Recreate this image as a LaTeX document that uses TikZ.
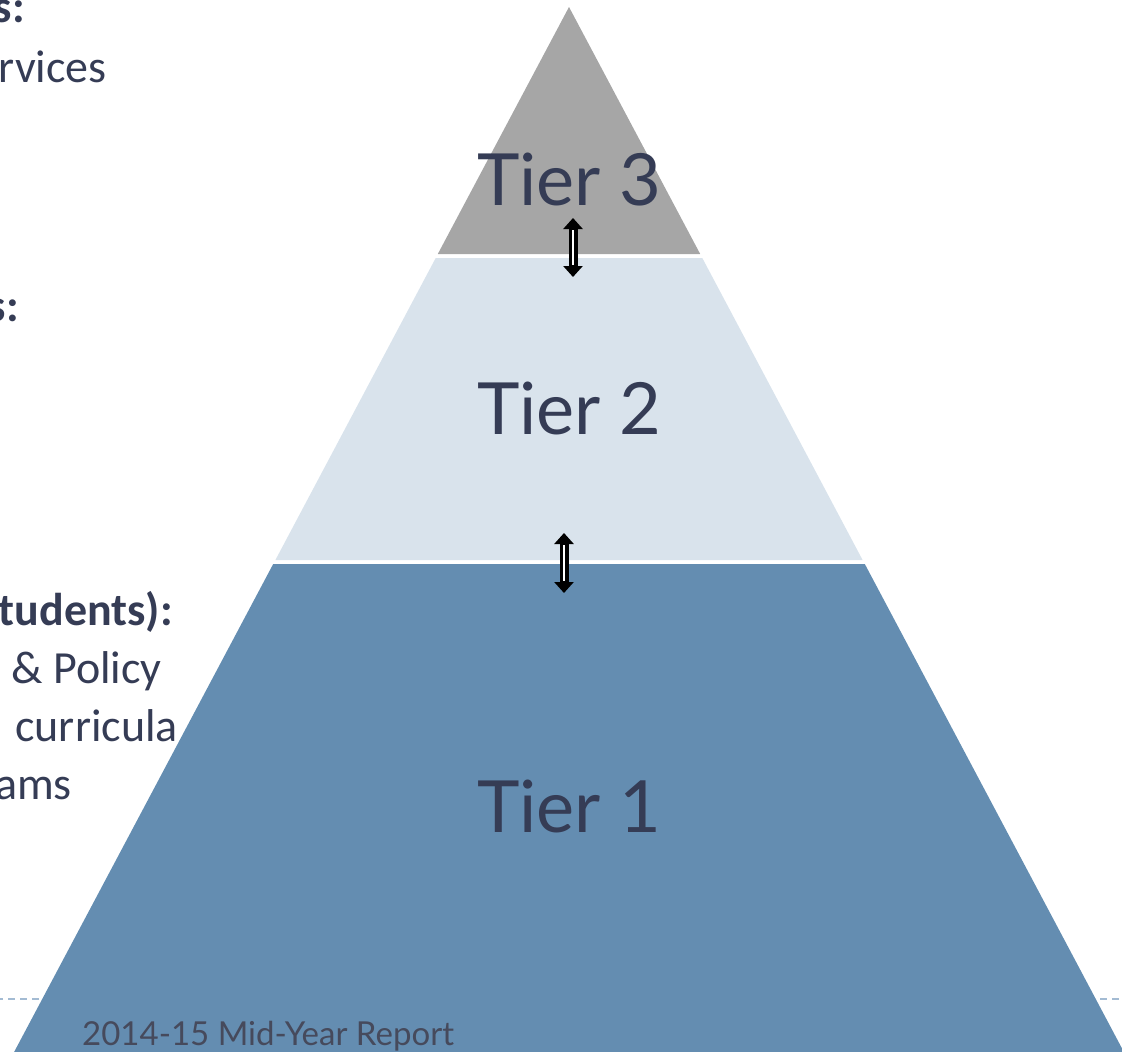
\documentclass[tikz,border=0pt]{standalone}
\usepackage{fontspec}
\setmainfont{Carlito}
\newfontfamily\tierfont{Lato}
\usetikzlibrary{arrows.meta}
\definecolor{navy}{HTML}{353C55}
\definecolor{tthree}{HTML}{A6A6A6}
\definecolor{ttwo}{HTML}{D9E3EC}
\definecolor{tone}{HTML}{648DB1}
\definecolor{dashblue}{HTML}{A3BBD3}
\definecolor{footgray}{HTML}{464A5C}
\begin{document}
\begin{tikzpicture}[x=1pt,y=-1pt,
  sidetext/.style={anchor=base east, inner sep=0pt, text=navy, font=\fontsize{46}{55}\selectfont},
  sidebold/.style={anchor=base east, inner sep=0pt, text=navy, font=\fontsize{46}{55}\selectfont\bfseries},
  tierlabel/.style={anchor=base west, inner sep=0pt, text=navy, font=\tierfont\fontsize{72}{80}\selectfont},
  footlabel/.style={anchor=base west, inner sep=0pt, text=footgray, font=\tierfont\fontsize{33}{40}\selectfont},
  dblarrow/.style={black, line width=9pt, {Triangle[width=19pt,length=11pt]}-{Triangle[width=19pt,length=11pt]}},
  arrowcore/.style={white, line width=1.3pt, shorten <=12pt, shorten >=12pt}]
\useasboundingbox (0,0) rectangle (1122,1052);
\clip (0,0) rectangle (1122,1052);
% footer dashed rule (behind the pyramid)
\coordinate (dl) at (0,999);
\coordinate (dr) at (1122,999);
\draw[dashblue, line width=2pt, dash pattern=on 7pt off 5pt, dash phase=4pt] (dl) -- (dr);
% left column text (clipped by the picture edge)
\node[sidebold] (t3head) at (25,23) {s:};
\node[sidetext] (t3line) at (107,82) {rvices};
\node[sidebold] (t2head) at (19,321) {s:};
\node[sidebold] (t1head) at (173,625) {tudents):};
\node[sidetext] (t1a) at (162,683) {\& Policy};
\node[sidetext] (t1b) at (178,741) {curricula};
\node[sidetext] (t1c) at (72,799) {ams};
% pyramid bands
\fill[tthree] (569,7) -- (700.2,254) -- (437.8,254) -- cycle;
\fill[ttwo] (435.7,258) -- (702.3,258) -- (862.6,560) -- (275.4,560) -- cycle;
\fill[tone] (273.2,564) -- (864.8,564) -- (1123.9,1052) -- (14.1,1052) -- cycle;
% tier labels
\node[tierlabel] (tier3) at (477,205) {Tier 3};
\node[tierlabel] (tier2) at (477,434) {Tier 2};
\node[tierlabel] (tier1) at (477,832) {Tier 1};
% arrows between tiers
\coordinate (a1t) at (573,218);
\coordinate (a1b) at (573,277);
\coordinate (a2t) at (564,533);
\coordinate (a2b) at (564,593);
\draw[dblarrow] (a1t) -- (a1b);
\draw[arrowcore] (a1t) -- (a1b);
\draw[dblarrow] (a2t) -- (a2b);
\draw[arrowcore] (a2t) -- (a2b);
% footer text
\node[footlabel] (footer) at (82,1045) {2014-15 Mid-Year Report};
\end{tikzpicture}
\end{document}
